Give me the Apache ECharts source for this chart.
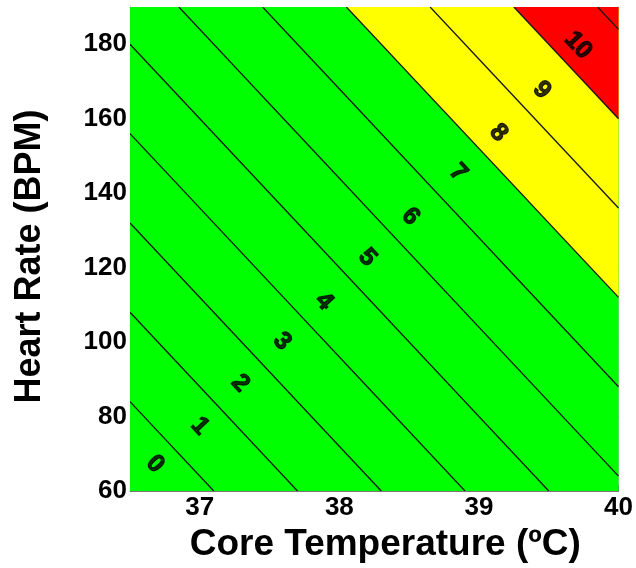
<!DOCTYPE html>
<html>
<head>
<meta charset="utf-8">
<script src="https://cdn.jsdelivr.net/npm/echarts@6/dist/echarts.min.js"></script>
<style>html,body{margin:0;padding:0;background:#fff;}#c{width:636px;height:568px;}</style>
</head>
<body>
<div id="c"></div>
<script>
// Axis extents and ticks
const tempRange = [36.5, 40];
const hrRange = [60, 190];
const tempTickStep = 0.5;
const hrTickStep = 20;
const tempLabels = [37, 38, 39, 40];
const hrLabels = [60, 80, 100, 120, 140, 160, 180];

// Contour lines (PSI levels), endpoints [temp, HR]
const contourLevels = [1, 2, 3, 4, 5, 6, 7, 8, 9, 10, 11];
const contourStart = [[36.5, 84], [36.5, 108], [36.5, 132], [36.5, 156], [36.5, 180],
  [36.85, 190], [37.45, 190], [38.05, 190], [38.65, 190], [39.25, 190], [39.85, 190]];
const contourEnd = [[37.1, 60], [37.7, 60], [38.3, 60], [38.9, 60], [39.5, 60],
  [40, 64], [40, 88], [40, 112], [40, 136], [40, 160], [40, 184]];

// Colour zones: lower PSI bound of each zone
const zoneFrom = [0, 8, 10];
const zoneColors = ['#00ff00', '#ffff00', '#ff0000'];

// Band labels and their positions [temp, HR]
const bandLabels = ['0', '1', '2', '3', '4', '5', '6', '7', '8', '9', '10'];
const labelPos = [[36.68, 67.2], [37.0, 77.4], [37.29, 88.9], [37.59, 100.2], [37.89, 110.9],
  [38.2, 122.7], [38.51, 133.7], [38.85, 145.5], [39.14, 156.2], [39.45, 167.7], [39.71, 179.7]];

// Build zone polygons from contour endpoints and axis extents
const corner = [tempRange[1], hrRange[1]];
const zonePolys = zoneFrom.map(function (lv) {
  if (lv === 0) {
    return [[tempRange[0], hrRange[0]], [tempRange[0], hrRange[1]], [tempRange[1], hrRange[1]], [tempRange[1], hrRange[0]]];
  }
  const i = contourLevels.indexOf(lv);
  return [contourStart[i], corner, contourEnd[i]];
});

const chart = echarts.init(document.getElementById('c'), null, {renderer: 'canvas'});
const font = 'Liberation Sans, Arial, sans-serif';
const frameCol = '#777';

function xAx(pos, showLabel) {
  return {
    type: 'value', position: pos, min: tempRange[0], max: tempRange[1], interval: tempTickStep,
    splitLine: {show: false},
    axisLine: {show: true, onZero: false, lineStyle: {color: pos === 'bottom' ? frameCol : '#bbb', width: 1}},
    axisTick: {show: true, inside: true, length: 5, lineStyle: {color: frameCol}},
    axisLabel: {show: showLabel, margin: 4, color: '#000', fontFamily: font, fontWeight: 'bold', fontSize: 26,
      formatter: function (v) { return tempLabels.indexOf(Math.round(v * 100) / 100) >= 0 ? String(v) : ''; }},
    name: showLabel ? 'Core Temperature (\u00baC)' : '', nameLocation: 'middle', nameGap: 35,
    nameTextStyle: {color: '#000', fontFamily: font, fontWeight: 'bold', fontSize: 37, padding: [0, 0, 0, 22]}
  };
}
function yAx(pos, showLabel) {
  return {
    type: 'value', position: pos, min: hrRange[0], max: hrRange[1], interval: hrTickStep,
    splitLine: {show: false},
    axisLine: {show: true, onZero: false, lineStyle: {color: pos === 'left' ? frameCol : '#bbb', width: 1}},
    axisTick: {show: true, inside: true, length: 5, lineStyle: {color: frameCol}},
    axisLabel: {show: showLabel, margin: 3, color: '#000', fontFamily: font, fontWeight: 'bold', fontSize: 26,
      formatter: function (v) { return hrLabels.indexOf(v) >= 0 ? String(v) : ''; }},
    name: showLabel ? 'Heart Rate (BPM)' : '', nameLocation: 'middle', nameGap: 82, nameRotate: 90,
    nameTextStyle: {color: '#000', fontFamily: font, fontWeight: 'bold', fontSize: 36, padding: [0, 15, 0, 0]}
  };
}

chart.setOption({
  animation: false,
  backgroundColor: '#fff',
  grid: {left: 130, right: 16, top: 7, bottom: 76},
  xAxis: [xAx('bottom', true), xAx('top', false)],
  yAxis: [yAx('left', true), yAx('right', false)],
  series: [
    {
      type: 'custom', z: 1, clip: true,
      data: zonePolys.map(function (p, i) { return {value: [i]}; }),
      renderItem: function (params, api) {
        const i = api.value(0);
        const pts = zonePolys[i].map(function (d) { return api.coord(d); });
        return {type: 'polygon', shape: {points: pts}, style: {fill: zoneColors[i], stroke: null}};
      }
    },
    {
      type: 'custom', z: 2, clip: true,
      data: contourLevels.map(function (lv, i) {
        return [contourStart[i][0], contourStart[i][1], contourEnd[i][0], contourEnd[i][1]];
      }),
      renderItem: function (params, api) {
        const a = api.coord([api.value(0), api.value(1)]);
        const b = api.coord([api.value(2), api.value(3)]);
        return {type: 'line', shape: {x1: a[0], y1: a[1], x2: b[0], y2: b[1]},
          style: {stroke: '#151515', lineWidth: 1.3}};
      }
    },
    {
      type: 'scatter', z: 3, symbolSize: 1, itemStyle: {color: 'rgba(0,0,0,0)'},
      data: labelPos.map(function (p, i) { return {value: p, name: bandLabels[i]}; }),
      label: {show: true, position: 'inside', formatter: '{b}', rotate: -47, color: '#000',
        fontFamily: font, fontWeight: 'bold', fontSize: 25, textBorderColor: '#000', textBorderWidth: 1.2},
      silent: true
    }
  ]
});
</script>
</body>
</html>
